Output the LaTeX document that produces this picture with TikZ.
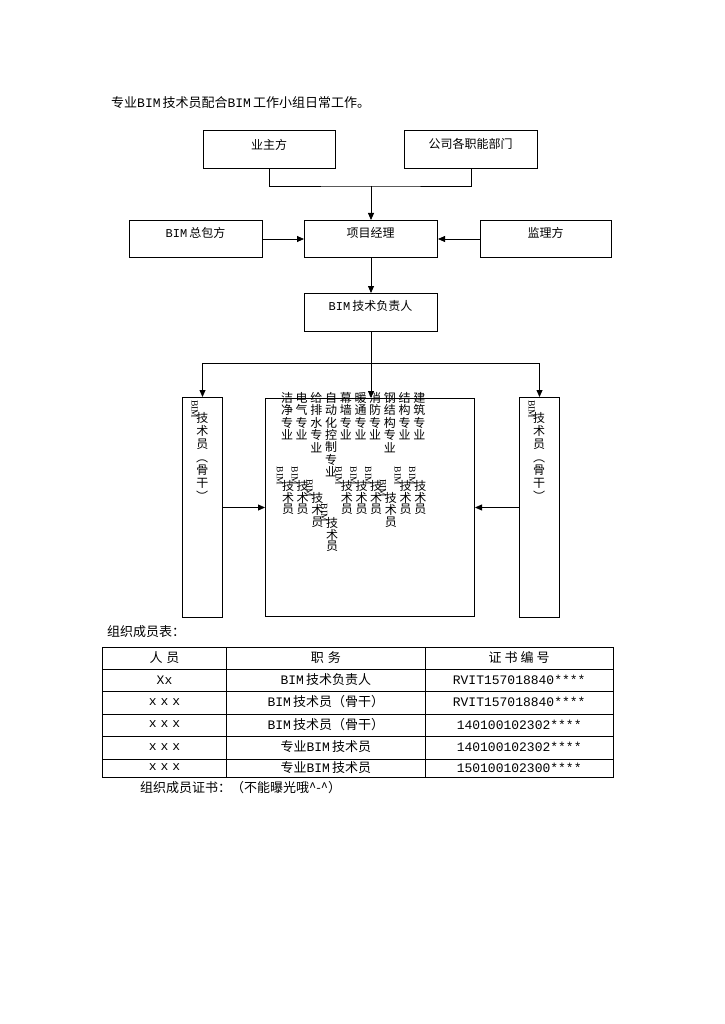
\documentclass[tikz,border=0pt]{standalone}
\usepackage{fontspec}
\setmainfont{Noto Sans CJK SC}
\newfontfamily\lat{Liberation Mono}
\newfontfamily\latr{Liberation Serif}
\usetikzlibrary{arrows.meta}
\newcommand\BIMx{{\lat BIM}\hspace{2pt}}
\newcommand\xxx{{\lat x\hspace{4pt}x\hspace{4pt}x}}
\newcommand\vstack[5]{%
  \foreach \c [count=\k from 0] in {#5}{\node[vch] (#1-\k) at (#2,{#3+#4*\k}) {\c};}}
\newcommand\spec[4]{%
  \vstack{s#1}{#2}{398}{12.3}{#4}
  \pgfmathsetmacro\yt{398+12.3*(#3-1)+33}
  \node[vbim] (sb#1) at (#2-7,\yt+8) {BIM};
  \vstack{st#1}{#2+1}{\yt+18}{11.8}{技,术,员}}
\tikzset{
  box/.style={draw, line width=1pt, inner sep=0pt, anchor=north west},
  ln/.style={line width=0.8pt},
  arr/.style={line width=0.8pt, -{Triangle[length=7pt,width=6pt]}},
  t12/.style={inner sep=0pt, font=\fontsize{12}{12}\selectfont},
  t13/.style={inner sep=0pt, font=\fontsize{13}{13}\selectfont},
  vch/.style={inner sep=0pt, font=\fontsize{12}{12}\selectfont},
  vbim/.style={inner sep=0pt, rotate=-90, font=\latr\fontsize{9.5}{9.5}\selectfont},
  tl/.style={line width=0.8pt}
}
\begin{document}
\begin{tikzpicture}[x=1pt,y=-1pt]
\useasboundingbox[fill=white] (0,0) rectangle (724,1024);

% title
\node[t13, anchor=west] (title) at (111,103) {专业\BIMx 技术员配合\BIMx 工作小组日常工作。};

% boxes
\node[box, minimum width=132pt, minimum height=38pt] (yz) at (203,130) {};
\node[box, minimum width=133pt, minimum height=38pt] (gs) at (404,130) {};
\node[box, minimum width=133pt, minimum height=37pt] (zb) at (129,220) {};
\node[box, minimum width=133pt, minimum height=37pt] (pm) at (304,220) {};
\node[box, minimum width=131pt, minimum height=37pt] (jl) at (480,220) {};
\node[box, minimum width=133pt, minimum height=38pt] (bt) at (304,293) {};
\node[box, minimum width=40pt, minimum height=220pt] (lb) at (182,397) {};
\node[box, minimum width=209pt, minimum height=218pt] (big) at (265,398) {};
\node[box, minimum width=40pt, minimum height=220pt] (rb) at (519,397) {};

% box texts
\node[t12] (yz-t) at (269,145) {业主方};
\node[t12] (gs-t) at (470.5,144) {公司各职能部门};
\node[t12] (zb-t) at (195.5,233) {\BIMx 总包方};
\node[t12] (pm-t) at (370.5,233) {项目经理};
\node[t12] (jl-t) at (545.5,233) {监理方};
\node[t12] (bt-t) at (370.5,306) {\BIMx 技术负责人};

% connectors
\path (pm.north) ++(0,-34) coordinate (j1);
\draw[ln] (yz.south) |- (j1) -| (gs.south);
\draw[arr] (j1) -- (pm.north);
\draw[arr] (zb.east) -- (pm.west);
\draw[arr] (jl.west) -- (pm.east);
\draw[arr] (pm.south) -- (bt.north);
\path (bt.south) ++(0,31) coordinate (j2);
\draw[ln] (bt.south) -- (j2);
\draw[arr] (j2) -| (lb.north);
\draw[arr] (j2) -| (rb.north);
\draw[arr] (j2) -- (j2 |- big.north);
\draw[arr] (lb.east) -- (big.west);
\draw[arr] (rb.west) -- (big.east);

% specialty columns
\spec{1}{287}{4}{洁,净,专,业}
\spec{2}{301.7}{4}{电,气,专,业}
\spec{3}{316.4}{5}{给,排,水,专,业}
\spec{4}{331.1}{7}{自,动,化,控,制,专,业}
\spec{5}{345.8}{4}{幕,墙,专,业}
\spec{6}{360.5}{4}{暖,通,专,业}
\spec{7}{375.2}{4}{消,防,专,业}
\spec{8}{389.9}{5}{钢,结,构,专,业}
\spec{9}{404.6}{4}{结,构,专,业}
\spec{10}{419.3}{4}{建,筑,专,业}

% side boxes vertical text
\node[vbim] (lbB) at (194.8,409) {BIM};
\vstack{lbs}{202.3}{418}{13}{技,术,员}
\node[vch, rotate=-90] (lbp1) at (202.3,457) {（};
\vstack{lbg}{202.3}{470}{13}{骨,干}
\node[vch, rotate=-90] (lbp2) at (202.3,496) {）};

\node[vbim] (rbB) at (531.7,409) {BIM};
\vstack{rbs}{539.2}{418}{13}{技,术,员}
\node[vch, rotate=-90] (rbp1) at (539.2,457) {（};
\vstack{rbg}{539.2}{470}{13}{骨,干}
\node[vch, rotate=-90] (rbp2) at (539.2,496) {）};

% table
\node[t13, anchor=west] (tabtitle) at (107,632) {组织成员表：};
\draw[tl] (102.3,647.3) rectangle (613.3,777);
\foreach \y in {669.3,691.7,714.3,736.7,759.3} \draw[tl] (102.3,\y) -- (613.3,\y);
\foreach \x in {226.7,425} \draw[tl] (\x,647.3) -- (\x,777);

\node[t13] (h1) at (164.5,658) {人\hspace{4pt}员};
\node[t13] (h2) at (325.8,658) {职\hspace{4pt}务};
\node[t13] (h3) at (519.2,658) {证\hspace{3pt}书\hspace{3pt}编\hspace{3pt}号};

\node[t13] (r1a) at (164.5,680) {\lat Xx};
\node[t13] (r1b) at (325.8,680) {\BIMx 技术负责人};
\node[t13] (r1c) at (519.2,680) {\lat RVIT157018840****};
\node[t13] (r2a) at (164.5,702) {\xxx};
\node[t13] (r2b) at (325.8,702) {\BIMx 技术员（骨干）};
\node[t13] (r2c) at (519.2,702) {\lat RVIT157018840****};
\node[t13] (r3a) at (164.5,724.5) {\xxx};
\node[t13] (r3b) at (325.8,724.5) {\BIMx 技术员（骨干）};
\node[t13] (r3c) at (519.2,724.5) {\lat 140100102302****};
\node[t13] (r4a) at (164.5,747) {\xxx};
\node[t13] (r4b) at (325.8,747) {专业\BIMx 技术员};
\node[t13] (r4c) at (519.2,747) {\lat 140100102302****};
\node[t13] (r5a) at (164.5,767.5) {\xxx};
\node[t13] (r5b) at (325.8,767.5) {专业\BIMx 技术员};
\node[t13] (r5c) at (519.2,767.5) {\lat 150100102300****};

\node[t13, anchor=west] (cert) at (140,788) {组织成员证书：（不能曝光哦\textasciicircum-\textasciicircum）};
\end{tikzpicture}
\end{document}
